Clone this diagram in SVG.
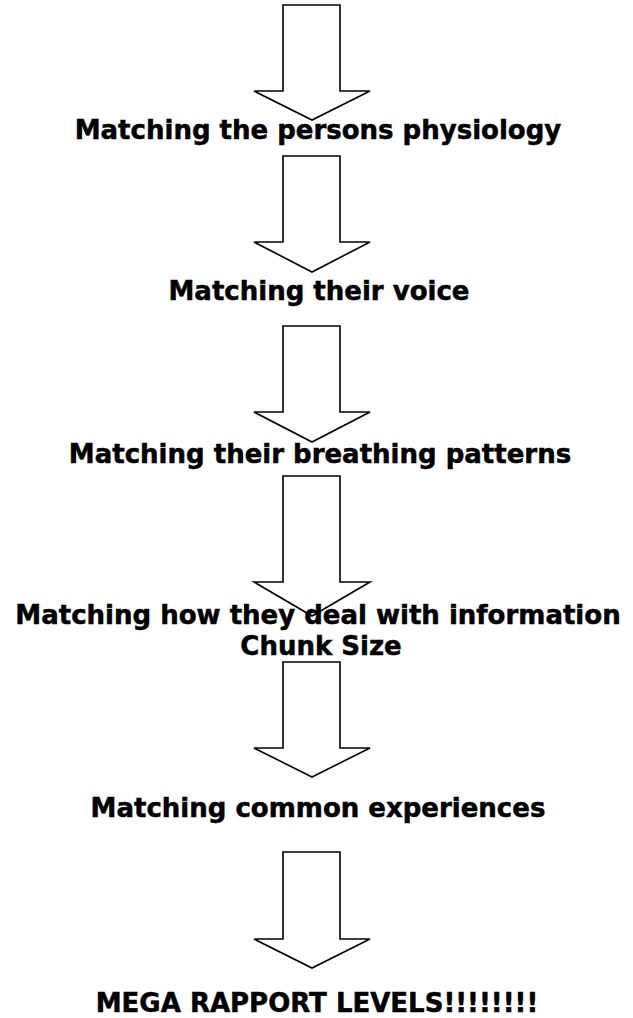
<svg xmlns="http://www.w3.org/2000/svg" width="633" height="1018" viewBox="0 0 633 1018">
<style>
.arrow{fill:#fff;stroke:#000;stroke-width:1.6;stroke-linejoin:miter}
.lbl{font-family:"DejaVu Sans","Verdana",sans-serif;font-weight:bold;font-size:26px;fill:#000;stroke:#000;stroke-width:0.5;text-anchor:middle}
</style>
<rect width="633" height="1018" fill="#fff"/>
<g id="connectors">
<polygon class="arrow" points="283,5 340,5 340,91 370,91 312,120 254,91 283,91"/>
<polygon class="arrow" points="283,156 340,156 340,242 370,242 312,272 254,242 283,242"/>
<polygon class="arrow" points="283,326 340,326 340,412 370,412 312,442 254,412 283,412"/>
<polygon class="arrow" points="283,476 340,476 340,582 370,582 312,616 254,582 283,582"/>
<polygon class="arrow" points="283,662 340,662 340,748 370,748 312,777 254,748 283,748"/>
<polygon class="arrow" points="283,852 340,852 340,939 370,939 312,968 254,939 283,939"/>
</g>
<g id="node1"><text class="lbl" x="318" y="139">Matching the persons physiology</text></g>
<g id="node2"><text class="lbl" x="319" y="300">Matching their voice</text></g>
<g id="node3"><text class="lbl" x="320" y="463">Matching their breathing patterns</text></g>
<g id="node4"><text class="lbl" x="318" y="624">Matching how they deal with information</text><text class="lbl" x="321" y="655">Chunk Size</text></g>
<g id="node5"><text class="lbl" x="318" y="817">Matching common experiences</text></g>
<g id="node6"><text class="lbl" x="317" y="1012">MEGA RAPPORT LEVELS!!!!!!!!</text></g>
</svg>
